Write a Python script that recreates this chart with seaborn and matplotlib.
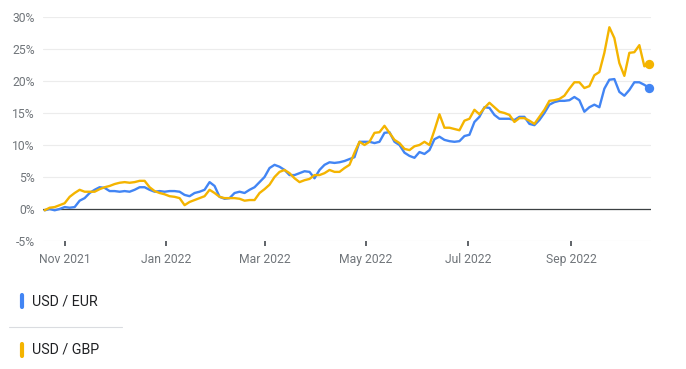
import matplotlib
matplotlib.use("Agg")
import matplotlib.pyplot as plt
import matplotlib.ticker as mticker
from matplotlib.lines import Line2D
import seaborn as sns
import pandas as pd

# daily-ish readings, one every 3 days starting 2021-10-20 (% change)
startDate = "2021-10-20"
stepDays = "3D"

usdEur = [
    -0.2, 0.0, -0.2, 0.0, 0.3, 0.2, 0.3, 1.3, 1.7, 2.5,
    3.0, 3.4, 3.3, 2.8, 2.8, 2.7, 2.8, 2.7, 3.0, 3.4,
    3.4, 3.0, 2.7, 2.8, 2.7, 2.8, 2.8, 2.7, 2.2, 2.0,
    2.5, 2.7, 3.0, 4.2, 3.6, 1.9, 1.6, 1.7, 2.5, 2.7,
    2.5, 3.0, 3.4, 4.2, 5.0, 6.4, 6.9, 6.6, 6.1, 5.3,
    5.3, 5.6, 5.9, 5.8, 4.8, 6.1, 6.9, 7.3, 7.2, 7.3,
    7.5, 7.8, 8.1, 10.5, 10.5, 10.5, 10.3, 10.5, 11.9, 12.0,
    10.5, 10.0, 8.8, 8.3, 8.0, 8.9, 8.6, 9.2, 10.9, 11.3,
    10.8, 10.6, 10.5, 10.6, 11.4, 11.6, 13.6, 14.4, 15.9, 15.8,
    14.7, 14.1, 14.1, 14.1, 13.9, 14.4, 14.4, 13.3, 13.1, 13.9,
    15.0, 16.3, 16.7, 16.9, 16.9, 17.0, 17.5, 17.0, 15.2, 15.9,
    16.3, 15.9, 18.8, 20.2, 20.3, 18.3, 17.7, 18.6, 19.8, 19.8,
    19.4, 18.9,
]

usdGbp = [
    -0.2, 0.2, 0.3, 0.6, 0.9, 1.9, 2.5, 3.0, 2.7, 2.7,
    2.7, 3.1, 3.4, 3.6, 3.9, 4.1, 4.2, 4.1, 4.2, 4.4,
    4.4, 3.4, 2.8, 2.5, 2.3, 2.0, 1.9, 1.7, 0.6, 1.1,
    1.4, 1.7, 2.0, 3.0, 2.5, 1.9, 1.7, 1.7, 1.7, 1.6,
    1.3, 1.4, 1.4, 2.5, 3.1, 3.8, 5.0, 5.8, 6.1, 5.6,
    4.8, 4.2, 4.5, 4.7, 5.3, 5.3, 5.6, 6.1, 5.8, 5.8,
    6.4, 6.9, 8.8, 10.5, 10.0, 10.5, 11.9, 12.0, 13.0, 11.9,
    10.8, 10.3, 9.4, 9.2, 9.8, 10.0, 10.5, 10.0, 12.3, 14.8,
    12.7, 12.7, 12.5, 12.3, 13.8, 14.1, 15.5, 14.8, 15.8, 16.6,
    15.9, 15.2, 15.0, 14.7, 13.6, 14.2, 14.2, 13.8, 13.3, 14.4,
    15.5, 16.9, 17.0, 17.2, 17.7, 18.8, 19.8, 19.8, 18.9, 19.2,
    20.9, 21.4, 24.4, 28.4, 26.7, 22.8, 20.8, 24.4, 24.5, 25.6,
    22.3, 22.7,
]

pairNames = ["USD / EUR", "USD / GBP"]
pairColors = ["#4285f4", "#f4b400"]

yTicks = [-5, 0, 5, 10, 15, 20, 25, 30]
xTickDates = ["2021-11-01", "2022-01-01", "2022-03-01",
              "2022-05-01", "2022-07-01", "2022-09-01"]
xTickLabels = ["Nov 2021", "Jan 2022", "Mar 2022",
               "May 2022", "Jul 2022", "Sep 2022"]

# long table for seaborn
dates = pd.date_range(startDate, periods=len(usdEur), freq=stepDays)
df = pd.concat([
    pd.DataFrame({"date": dates, "change": usdEur, "pair": pairNames[0]}),
    pd.DataFrame({"date": dates, "change": usdGbp, "pair": pairNames[1]}),
])

sns.set_theme(style="white")
plt.rcParams["font.family"] = ["Roboto", "DejaVu Sans"]

fig = plt.figure(figsize=(6.86, 3.69), dpi=100)
ax = fig.add_axes([43 / 686, 1 - 241 / 369, 608 / 686, 224 / 369])

sns.lineplot(data=df, x="date", y="change", hue="pair",
             palette=dict(zip(pairNames, pairColors)), linewidth=1.7,
             legend=False, ax=ax, clip_on=False, zorder=3)

# end-of-series dots
for name, color in zip(pairNames, pairColors):
    last = df[df["pair"] == name].iloc[-1]
    ax.scatter(last["date"], last["change"], s=45, color=color,
               zorder=4, clip_on=False, linewidths=0)

ax.set_xlim(pd.Timestamp("2021-10-19"), pd.Timestamp("2022-10-19"))
ax.set_ylim(-5, 30)
ax.set_yticks(yTicks)
ax.yaxis.set_major_formatter(mticker.FuncFormatter(lambda v, p: f"{v:.0f}%"))
ax.set_xticks(pd.to_datetime(xTickDates))
ax.set_xticklabels(xTickLabels)

ax.grid(axis="y", color="#ececec", linewidth=0.8)
ax.axhline(0, color="#3c4043", linewidth=0.9, zorder=2)
for s in ax.spines.values():
    s.set_visible(False)

ax.tick_params(axis="y", length=0, pad=6, labelsize=8.7, labelcolor="#70757a")
ax.tick_params(axis="x", length=3.5, width=1.4, color="#5f6368", pad=5,
               labelsize=8.7, labelcolor="#70757a", bottom=True)
ax.set_xlabel("")
ax.set_ylabel("")

# legend rows below the chart
legendRows = [301, 350]
for name, color, yPix in zip(pairNames, pairColors, legendRows):
    yFig = 1 - yPix / 369
    fig.add_artist(Line2D([21.5 / 686, 21.5 / 686],
                          [yFig - 6 / 369, yFig + 6 / 369],
                          color=color, linewidth=3, solid_capstyle="round"))
    fig.text(32 / 686, yFig, name, fontsize=10.3, color="#202124",
             va="center", ha="left")

fig.add_artist(Line2D([9 / 686, 122 / 686], [1 - 327 / 369, 1 - 327 / 369],
                      color="#dadce0", linewidth=0.8))

fig.savefig("out.png", dpi=100)
